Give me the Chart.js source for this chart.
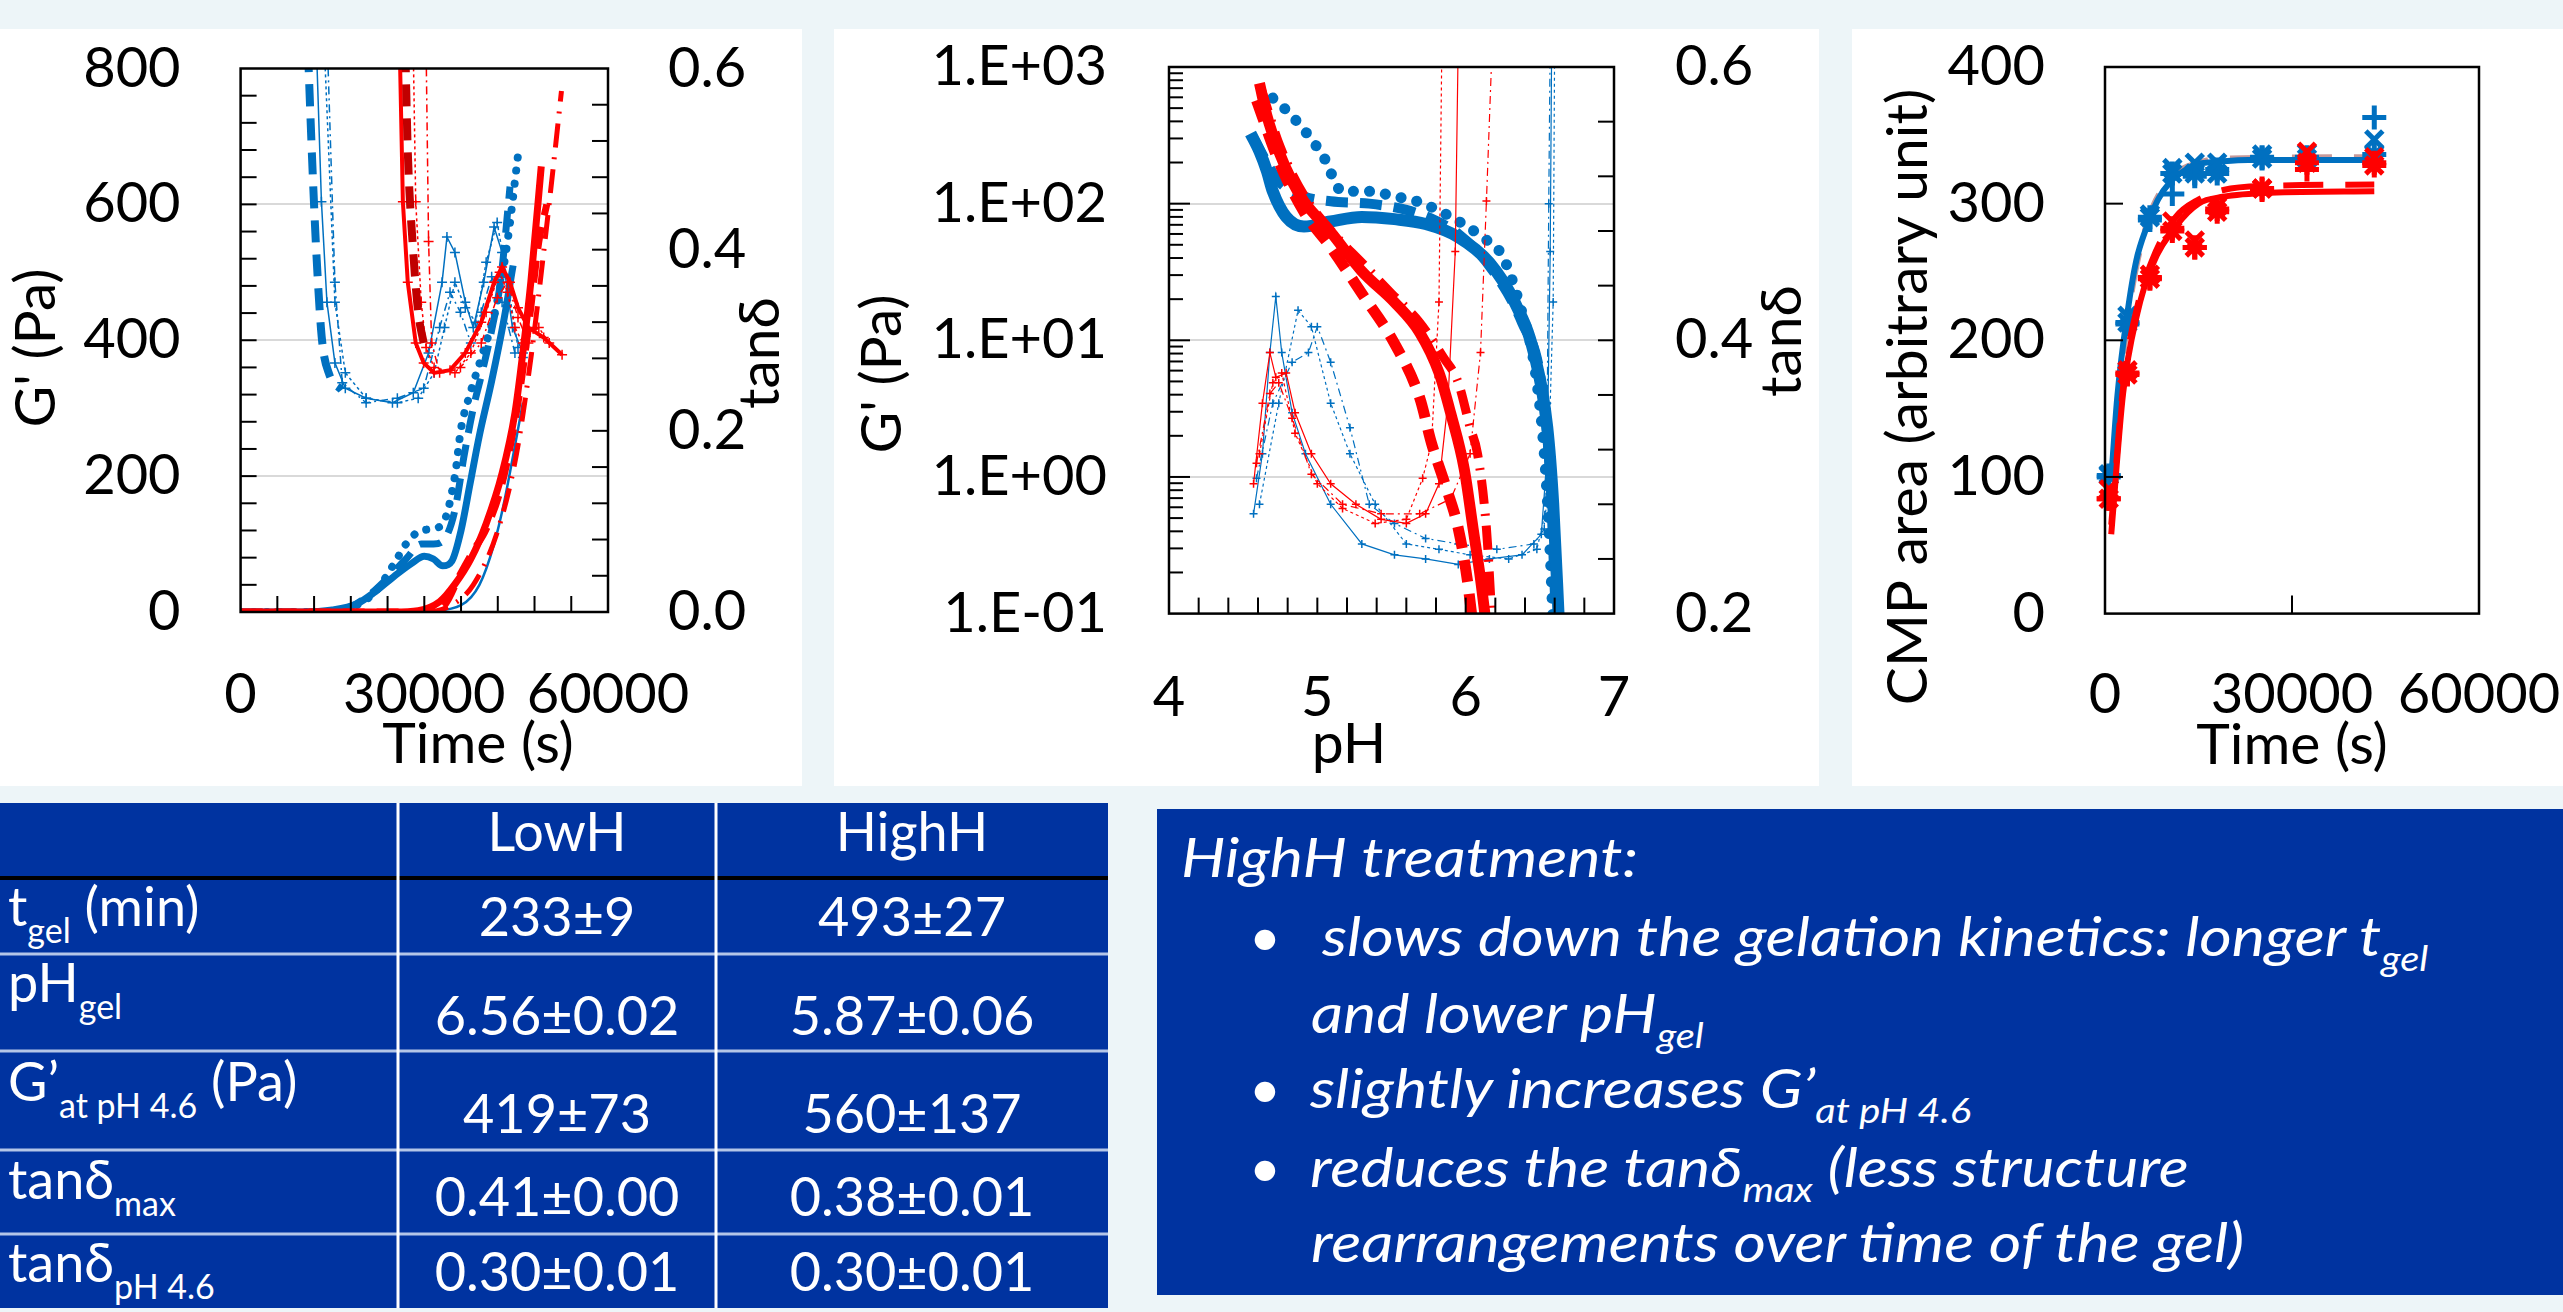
<!DOCTYPE html>
<html>
<head>
<meta charset="utf-8">
<title>Gelation kinetics LowH / HighH</title>
<script src="https://cdn.jsdelivr.net/npm/chart.js@4.4.1/dist/chart.umd.min.js"></script>
<style>
  html, body { margin: 0; padding: 0; }
  body { width: 2563px; height: 1312px; background: #edf5f8; position: relative; overflow: hidden; }
  .panel { position: absolute; top: 29px; height: 757px; background: #fff; }
  .panel canvas { position: absolute; left: 0; top: 0; }
  #bottom { position: absolute; left: 0; top: 0; }
</style>
</head>
<body>
<svg id="bottom" width="2563" height="1312"></svg>
<div class="panel" style="left:0;width:802px"><canvas id="c1" width="802" height="757"></canvas></div>
<div class="panel" style="left:834px;width:985px"><canvas id="c2" width="985" height="757"></canvas></div>
<div class="panel" style="left:1852px;width:711px"><canvas id="c3" width="711" height="757"></canvas></div>
<script>
// ---- chart 1 : G' and tan delta vs time  [time s, value] ----
const c1BlueGSolid = [[0,0],[10000,0],[15000,3],[19000,12],[22000,30],[25000,52],[28000,72],[30000,82],[31500,78],[33000,68],[34500,75],[36000,120],[37500,190],[39000,260],[41000,340],[43000,430],[44500,510]];
const c1BlueGDash = [[0,0],[13000,0],[18000,8],[21000,25],[24000,50],[27000,78],[29500,100],[31500,100],[33500,110],[35000,150],[36500,230],[38000,300],[39500,355],[41000,415],[42500,490],[44000,626]];
const c1BlueGDot = [[0,0],[14000,0],[18000,6],[22000,30],[25000,70],[27000,100],[29000,118],[31000,122],[33000,130],[35000,200],[36000,270],[37500,322],[39500,380],[41500,440],[43500,540],[45300,672]];
const c1BlueGThin = [[30000,0],[36000,10],[39000,40],[41400,100],[43000,160],[44500,230],[46100,308]];
const c1RedGSolid = [[0,0],[25000,0],[29000,2],[32500,15],[35000,41],[37600,78],[40100,130],[42700,204],[44800,293],[46100,382],[47400,486],[49100,656]];
const c1RedGDash = [[0,0],[27000,0],[31000,3],[33300,10],[35900,56],[38000,90],[40100,122],[42700,189],[45300,308],[47000,419],[48700,545],[50000,600]];
const c1RedGDashDot = [[0,0],[30000,0],[34000,8],[38000,40],[42000,120],[45000,230],[47500,380],[49500,530],[51000,650],[52400,767]];

const c1BlueTan1 = [[12400,0.62],[13200,0.453],[14100,0.342],[15400,0.275],[17100,0.247],[20500,0.236],[24800,0.231],[28200,0.242],[30700,0.286],[32900,0.364],[33700,0.414],[35000,0.397],[36700,0.342],[38000,0.314],[39700,0.364],[41400,0.425],[42700,0.397],[44400,0.314],[46100,0.286]];
const c1BlueTan2 = [[13700,0.62],[15400,0.342],[17100,0.264],[20500,0.236],[25600,0.231],[29000,0.236],[31600,0.264],[33300,0.314],[35000,0.364],[36700,0.336],[38400,0.32],[40100,0.386],[41900,0.43],[43600,0.364],[45300,0.292]];
const c1BlueTan3 = [[14200,0.62],[15400,0.364],[16600,0.253],[20500,0.231],[25600,0.236],[29900,0.247],[32500,0.314],[34200,0.353],[35900,0.331],[37600,0.297],[39300,0.331],[41000,0.37],[42700,0.342],[44800,0.286],[46100,0.281]];
const c1BlueTanThick = [[11000,0.62],[11800,0.48],[12500,0.38],[13300,0.3],[14500,0.262],[16500,0.245]];
const c1RedTan1 = [[26000,0.62],[26500,0.453],[27300,0.364],[28600,0.297],[29900,0.275],[31600,0.264],[34200,0.267],[36700,0.286],[39300,0.32],[41400,0.364],[42700,0.381],[44000,0.364],[45300,0.336],[47000,0.314],[49500,0.303],[52500,0.284]];
const c1RedTan2 = [[28200,0.62],[28600,0.453],[29500,0.342],[30300,0.292],[31600,0.27],[35000,0.264],[37600,0.286],[40100,0.331],[42300,0.375],[43600,0.353],[44800,0.314],[46100,0.297],[48700,0.314],[50400,0.297]];
const c1RedTan3 = [[30300,0.62],[30700,0.409],[31200,0.297],[32500,0.264],[35900,0.27],[39300,0.297],[41900,0.347],[43600,0.364],[45300,0.325],[47000,0.297]];
const c1RedTanThick = [[26900,0.62],[27300,0.509],[28200,0.397],[29000,0.331],[29900,0.297]];

// ---- chart 2 : G' and tan delta vs pH  [pH, value] ----
const c2YTicks = [0.1, 1, 10, 100, 1000];
const c2RedGSolid = [[4.61,760],[4.66,440],[4.74,242],[4.83,146],[4.91,104],[5.09,62],[5.30,32],[5.52,19],[5.69,11.4],[5.82,5.8],[5.90,2.9],[5.99,1.15],[6.05,0.42],[6.10,0.18],[6.14,0.08]];
const c2RedGDash = [[4.59,570],[4.74,204],[4.91,87],[5.09,48],[5.30,22],[5.52,9.5],[5.69,3.8],[5.77,1.76],[5.86,0.89],[5.95,0.42],[6.01,0.18],[6.05,0.08]];
const c2RedGDashDot = [[4.62,700],[4.75,260],[4.91,115],[5.10,62],[5.30,37],[5.50,22],[5.69,13.5],[5.85,7.5],[5.95,4.9],[6.03,2.3],[6.08,1.48],[6.14,0.42],[6.18,0.08]];
const c2BlueGSolid = [[4.55,326],[4.61,241],[4.66,173],[4.70,123],[4.79,80],[4.91,68],[5.09,74],[5.30,80],[5.52,77],[5.73,71],[5.95,57],[6.16,37],[6.33,19],[6.46,8.1],[6.55,2.3],[6.59,0.64],[6.63,0.08]];
const c2BlueGDot = [[4.70,592],[4.83,437],[5.04,222],[5.17,123],[5.35,123],[5.52,113],[5.67,104],[5.90,80],[6.11,57],[6.25,41],[6.38,15.9],[6.46,6.9],[6.53,1.48],[6.57,0.27],[6.59,0.08]];
const c2BlueGDash = [[4.57,300],[4.74,146],[4.91,113],[5.09,104],[5.35,100],[5.60,90],[5.80,75],[5.95,60],[6.16,35],[6.38,13.5],[6.51,4.9],[6.57,0.98],[6.61,0.08]];

const c2BlueTanA = [[4.57,0.273],[4.63,0.317],[4.68,0.391],[4.72,0.432],[4.76,0.391],[4.83,0.347],[4.92,0.317],[5.09,0.28],[5.30,0.251],[5.52,0.243],[5.73,0.24],[5.95,0.236],[6.16,0.24],[6.38,0.243],[6.51,0.258],[6.55,0.317],[6.57,0.465],[6.58,0.62]];
const c2BlueTanB = [[4.61,0.28],[4.74,0.354],[4.87,0.422],[4.96,0.41],[5.09,0.354],[5.22,0.317],[5.39,0.28],[5.60,0.251],[5.82,0.247],[6.03,0.243],[6.29,0.24],[6.48,0.247],[6.55,0.28],[6.59,0.428],[6.60,0.62]];
const c2BlueTanC = [[4.59,0.299],[4.70,0.354],[4.83,0.384],[4.94,0.391],[5.00,0.41],[5.09,0.384],[5.22,0.336],[5.35,0.28],[5.52,0.266],[5.73,0.255],[5.95,0.251],[6.21,0.247],[6.46,0.251],[6.53,0.262],[6.55,0.354],[6.56,0.5],[6.57,0.62]];
const c2RedTanA = [[4.57,0.295],[4.63,0.354],[4.68,0.391],[4.72,0.373],[4.79,0.376],[4.85,0.347],[4.96,0.317],[5.09,0.295],[5.26,0.28],[5.43,0.269],[5.60,0.266],[5.73,0.273],[5.82,0.295],[5.88,0.354],[5.93,0.465],[5.95,0.62]];
const c2RedTanB = [[4.61,0.317],[4.70,0.369],[4.76,0.376],[4.85,0.332],[5.00,0.295],[5.17,0.277],[5.39,0.266],[5.60,0.269],[5.71,0.299],[5.77,0.325],[5.82,0.428],[5.84,0.62]];
const c2RedTanC = [[4.59,0.31],[4.68,0.361],[4.74,0.369],[4.83,0.343],[4.96,0.302],[5.17,0.28],[5.43,0.273],[5.69,0.273],[5.90,0.284],[6.03,0.317],[6.10,0.391],[6.14,0.502],[6.18,0.62]];

// ---- chart 3 : CMP area vs time ----
const c3Times = [600, 3600, 7200, 10800, 14400, 18000, 25200, 32400, 43200];
const c3BlueX = [102, 218, 292, 326, 330, 330, 336, 337, 347];
const c3BluePlus = [100, 212, 288, 307, 320, 325, 334, 334, 363];
const c3BlueStar = [101, 213, 290, 322, 322, 322, 333, 333, 336];
const c3RedX = [91, 178, 248, 287, 273, 298, 311, 338, 334];
const c3RedPlus = [84, 176, 246, 282, 268, 296, 310, 325, 330];
const c3RedStar = [84, 175, 245, 280, 268, 294, 311, 330, 328];
const c3BlueFit = [[1000,99],[2000,160],[3600,220],[5000,258],[6700,283],[8500,303],[10500,316],[13000,325],[15000,329],[19000,331],[23000,332],[43200,332]];
const c3BlueFitDash = [[1000,100],[3700,218],[6700,285],[10500,318],[15000,330],[20000,333],[43200,334]];
const c3RedFit = [[1000,58],[2900,161],[5200,220],[7500,254],[11300,283],[15000,300],[18900,305],[26500,308],[43200,309]];
const c3RedFitDash = [[1000,65],[3000,170],[5200,225],[7500,258],[11300,290],[15000,303],[19000,310],[26000,313],[43200,314]];

// ---- table and summary text ----
const tableCols = ['LowH', 'HighH'];
const rowMain = ['t', 'pH', 'G’', 'tanδ', 'tanδ'];
const rowSub = ['gel', 'gel', 'at pH 4.6', 'max', 'pH 4.6'];
const rowUnit = [' (min)', '', ' (Pa)', '', ''];
const lowHValues = ['233±9', '6.56±0.02', '419±73', '0.41±0.00', '0.30±0.01'];
const highHValues = ['493±27', '5.87±0.06', '560±137', '0.38±0.01', '0.30±0.01'];
const boxText = [
  [['HighH treatment:']],
  [['slows down the gelation kinetics: longer t'], ['gel', 'sub']],
  [['and lower pH'], ['gel', 'sub']],
  [['slightly increases G’'], ['at pH 4.6', 'sub']],
  [['reduces the tanδ'], ['max', 'sub'], [' (less structure']],
  [['rearrangements over time of the gel)']]
];

const BLUE = '#0070c0', RED = '#ff0000', DRED = '#c00000';
const TICK_FONT = {family: 'Lato', size: 56};
const TITLE_FONT = '57px Lato';

function steps(from, to, step) {
  const out = [];
  for (let v = from; v <= to + 1e-9; v += step) out.push(+v.toFixed(6));
  return out;
}

function series(points, color, axis, style) {
  return Object.assign({
    data: points.map(p => ({x: p[0], y: p[1]})),
    yAxisID: axis, borderColor: color, backgroundColor: color,
    showLine: true, pointRadius: 0, borderWidth: 7, tension: 0, clip: 0
  }, style);
}
const thick = {borderWidth: 7, cubicInterpolationMode: 'monotone'};
const dashed = {borderDash: [22, 12]};
const dotted = {borderDash: [0.1, 13], borderCapStyle: 'round'};
const dashDot = {borderDash: [24, 10, 2, 10]};
const thinPlus = {borderWidth: 1.5, pointStyle: 'cross', pointRadius: 5, pointBorderWidth: 1.5};

function gridAt(values) {
  return c => (c.tick && values.includes(c.tick.value)) ? '#d9d9d9' : 'rgba(0,0,0,0)';
}

// box, inward ticks and axis titles
const framePlugin = {
  id: 'frame',
  afterDraw(chart, args, opts) {
    const {ctx, chartArea: a} = chart;
    ctx.save();
    ctx.strokeStyle = '#000';
    ctx.lineWidth = 2;
    (opts.marks || []).forEach(m => {
      const sc = chart.scales[m.scale];
      m.values.forEach(v => {
        const p = sc.getPixelForValue(v);
        ctx.beginPath();
        if (m.side === 'left') { ctx.moveTo(a.left, p); ctx.lineTo(a.left + m.len, p); }
        else if (m.side === 'right') { ctx.moveTo(a.right, p); ctx.lineTo(a.right - m.len, p); }
        else { ctx.moveTo(p, a.bottom); ctx.lineTo(p, a.bottom - m.len); }
        ctx.stroke();
      });
    });
    ctx.lineWidth = 2.5;
    ctx.strokeRect(a.left, a.top, a.right - a.left, a.bottom - a.top);
    ctx.fillStyle = '#000';
    ctx.font = TITLE_FONT;
    ctx.textAlign = 'center';
    ctx.textBaseline = 'middle';
    (opts.titles || []).forEach(t => {
      ctx.save();
      ctx.translate(t.x, t.y);
      if (t.rot) ctx.rotate(-Math.PI / 2);
      ctx.fillText(t.text, 0, 0);
      ctx.restore();
    });
    ctx.restore();
  }
};

// fixed axis sizes, no automatic label padding
function fixX(height) {
  return s => { s.height = height; s.paddingLeft = 0; s.paddingRight = 0; };
}
function fixY(width) {
  return s => { s.width = width; s.paddingTop = 0; s.paddingBottom = 0; };
}
function axisX(min, max, step, height, pad) {
  return {type: 'linear', min: min, max: max, afterFit: fixX(height),
    ticks: {stepSize: step, padding: pad, font: TICK_FONT, color: '#000', autoSkip: false, maxRotation: 0, callback: v => String(v)},
    grid: {display: false, drawTicks: false}, border: {display: false}};
}
function axisY(pos, min, max, step, width, pad, fmt, grid) {
  return {type: 'linear', position: pos, min: min, max: max, afterFit: fixY(width),
    ticks: {stepSize: step, padding: pad, font: TICK_FONT, color: '#000', callback: fmt},
    grid: grid ? {drawTicks: false, lineWidth: 2, color: gridAt(grid)} : {display: false, drawTicks: false},
    border: {display: false}};
}
const baseOpts = {responsive: false, animation: false};
const noLegend = {legend: {display: false}, tooltip: {enabled: false}};

// ---------- chart 1 ----------
new Chart(document.getElementById('c1'), {
  type: 'scatter',
  data: {datasets: [
    series(c1RedGSolid, RED, 'y', thick),
    series(c1RedGDash, RED, 'y', Object.assign({}, thick, dashed)),
    series(c1RedGDashDot, RED, 'y', Object.assign({}, thick, dashDot, {borderWidth: 5})),
    series(c1RedTanThick, DRED, 'y2', Object.assign({}, thick, dashed, {borderWidth: 8})),
    series(c1RedTan1, RED, 'y2', Object.assign({}, thinPlus, {borderWidth: 4})),
    series(c1RedTan2, RED, 'y2', Object.assign({}, thinPlus, {borderDash: [3, 3]})),
    series(c1RedTan3, RED, 'y2', Object.assign({}, thinPlus, {borderDash: [8, 4, 2, 4]})),
    series(c1BlueGSolid, BLUE, 'y', thick),
    series(c1BlueGDash, BLUE, 'y', Object.assign({}, thick, dashed)),
    series(c1BlueGDot, BLUE, 'y', Object.assign({}, thick, dotted, {borderWidth: 8})),
    series(c1BlueGThin, BLUE, 'y', {borderWidth: 2.5, cubicInterpolationMode: 'monotone'}),
    series(c1BlueTanThick, BLUE, 'y2', Object.assign({}, thick, dashed, {borderWidth: 8})),
    series(c1BlueTan1, BLUE, 'y2', thinPlus),
    series(c1BlueTan2, BLUE, 'y2', Object.assign({}, thinPlus, {borderDash: [3, 3]})),
    series(c1BlueTan3, BLUE, 'y2', Object.assign({}, thinPlus, {borderDash: [8, 4, 2, 4]}))
  ]},
  options: Object.assign({}, baseOpts, {
    layout: {autoPadding: false, padding: {top: 39.5, left: 0, right: 0, bottom: 0}},
    plugins: Object.assign({}, noLegend, {frame: {
      marks: [
        {scale: 'y', side: 'left', len: 16, values: steps(40, 760, 40)},
        {scale: 'y2', side: 'right', len: 16, values: steps(0.04, 0.56, 0.04)},
        {scale: 'x', side: 'bottom', len: 16, values: steps(6000, 54000, 6000)}
      ],
      titles: [
        {text: "G' (Pa)", x: 37, y: 319, rot: true},
        {text: 'Time (s)', x: 478, y: 716},
        {text: 'tanδ', x: 761, y: 324, rot: true}
      ]
    }}),
    scales: {
      x: axisX(0, 60000, 30000, 174, 49),
      y: axisY('left', 0, 800, 200, 240.6, 60, v => String(v), [200, 400, 600]),
      y2: axisY('right', 0, 0.6, 0.2, 194, 60, v => v.toFixed(1), null)
    }
  }),
  plugins: [framePlugin]
});

// ---------- chart 2 ----------
function sci(v) {
  const e = Math.round(Math.log10(v));
  return '1.E' + (e < 0 ? '-' : '+') + String(Math.abs(e)).padStart(2, '0');
}
const c2Minor = c2YTicks.slice(0, -1).flatMap(d => [2, 3, 4, 5, 6, 7, 8, 9].map(k => d * k));
const c2Y = {type: 'logarithmic', position: 'left', min: 0.1, max: 1000,
  afterFit: fixY(335),
  afterBuildTicks: s => { s.ticks = c2YTicks.map(v => ({value: v})); },
  ticks: {padding: 62, font: TICK_FONT, color: '#000', callback: v => sci(v)},
  grid: {drawTicks: false, lineWidth: 2, color: gridAt([1, 10, 100])},
  border: {display: false}};

new Chart(document.getElementById('c2'), {
  type: 'scatter',
  data: {datasets: [
    series(c2RedGSolid, RED, 'y', Object.assign({}, thick, {borderWidth: 11})),
    series(c2RedGDash, RED, 'y', Object.assign({}, thick, dashed, {borderWidth: 11})),
    series(c2RedGDashDot, RED, 'y', Object.assign({}, thick, dashDot, {borderWidth: 9})),
    series(c2RedTanA, RED, 'y2', Object.assign({}, thinPlus, {pointRadius: 4, borderWidth: 1.2})),
    series(c2RedTanB, RED, 'y2', Object.assign({}, thinPlus, {pointRadius: 4, borderWidth: 1.2, borderDash: [3, 3]})),
    series(c2RedTanC, RED, 'y2', Object.assign({}, thinPlus, {pointRadius: 4, borderWidth: 1.2, borderDash: [8, 4, 2, 4]})),
    series(c2BlueGSolid, BLUE, 'y', Object.assign({}, thick, {borderWidth: 12})),
    series(c2BlueGDot, BLUE, 'y', Object.assign({}, thick, dotted, {borderWidth: 11, borderDash: [0.1, 16]})),
    series(c2BlueGDash, BLUE, 'y', Object.assign({}, thick, dashed, {borderWidth: 10})),
    series(c2BlueTanA, BLUE, 'y2', Object.assign({}, thinPlus, {pointRadius: 4, borderWidth: 1.2})),
    series(c2BlueTanB, BLUE, 'y2', Object.assign({}, thinPlus, {pointRadius: 4, borderWidth: 1.2, borderDash: [3, 3]})),
    series(c2BlueTanC, BLUE, 'y2', Object.assign({}, thinPlus, {pointRadius: 4, borderWidth: 1.2, borderDash: [8, 4, 2, 4]}))
  ]},
  options: Object.assign({}, baseOpts, {
    layout: {autoPadding: false, padding: {top: 38, left: 0, right: 0, bottom: 0}},
    plugins: Object.assign({}, noLegend, {frame: {
      marks: [
        {scale: 'y', side: 'left', len: 21, values: [1, 10, 100]},
        {scale: 'y', side: 'left', len: 14, values: c2Minor},
        {scale: 'y2', side: 'right', len: 16, values: steps(0.24, 0.56, 0.04)},
        {scale: 'x', side: 'bottom', len: 16, values: steps(4.2, 6.8, 0.2)}
      ],
      titles: [
        {text: "G' (Pa)", x: 49, y: 345, rot: true},
        {text: 'pH', x: 515, y: 716},
        {text: 'tanδ', x: 949, y: 312, rot: true}
      ]
    }}),
    scales: {
      x: axisX(4, 7, 1, 172.4, 51),
      y: c2Y,
      y2: axisY('right', 0.2, 0.6, 0.2, 205, 61, v => v.toFixed(1), null)
    }
  }),
  plugins: [framePlugin]
});

// ---------- chart 3 ----------
function markers(values, color, style) {
  return {data: c3Times.map((t, i) => ({x: t, y: values[i]})), yAxisID: 'y', showLine: false,
    pointStyle: style, pointRadius: 12, pointBorderWidth: 5, borderColor: color, backgroundColor: color, clip: false};
}
new Chart(document.getElementById('c3'), {
  type: 'scatter',
  data: {datasets: [
    markers(c3RedX, RED, 'crossRot'),
    markers(c3RedPlus, RED, 'cross'),
    markers(c3RedStar, RED, 'star'),
    series(c3RedFit, RED, 'y', {borderWidth: 6, cubicInterpolationMode: 'monotone'}),
    series(c3RedFitDash, RED, 'y', {borderWidth: 6, cubicInterpolationMode: 'monotone', borderDash: [40, 22]}),
    markers(c3BlueX, BLUE, 'crossRot'),
    markers(c3BluePlus, BLUE, 'cross'),
    markers(c3BlueStar, BLUE, 'star'),
    series(c3BlueFit, BLUE, 'y', {borderWidth: 6, cubicInterpolationMode: 'monotone'}),
    series(c3BlueFitDash, '#c89a9a', 'y', {borderWidth: 6, cubicInterpolationMode: 'monotone', borderDash: [40, 22]})
  ]},
  options: Object.assign({}, baseOpts, {
    layout: {autoPadding: false, padding: {top: 38, left: 0, right: 84, bottom: 0}},
    plugins: Object.assign({}, noLegend, {frame: {
      marks: [
        {scale: 'y', side: 'left', len: 18, values: [100, 200, 300]},
        {scale: 'x', side: 'bottom', len: 18, values: [30000]}
      ],
      titles: [
        {text: 'CMP area (arbitrary unit)', x: 57, y: 368, rot: true},
        {text: 'Time (s)', x: 440, y: 717}
      ]
    }}),
    scales: {
      x: axisX(0, 60000, 30000, 172.4, 48),
      y: axisY('left', 0, 400, 100, 253, 60, v => String(v), null)
    }
  }),
  plugins: [framePlugin]
});

// ---------- table and summary box (SVG) ----------
const NS = 'http://www.w3.org/2000/svg';
const svg = document.getElementById('bottom');
function mk(tag, attrs, parent, text) {
  const e = document.createElementNS(NS, tag);
  for (const k in attrs) e.setAttribute(k, attrs[k]);
  if (text !== undefined) e.textContent = text;
  (parent || svg).appendChild(e);
  return e;
}
const TBL = {x: 0, y: 803, w: 1108, h: 505, col1: 398, col2: 716};
const rowLines = [954, 1051, 1150, 1234];
const labelBase = [926, 1002, 1101, 1199, 1282];
const valueBase = [936, 1034.5, 1133, 1216, 1291];
const colCenter = [557, 912];
const FS = 54, SUB = 34, SUBDY = 17;

mk('rect', {x: TBL.x, y: TBL.y, width: TBL.w, height: TBL.h, fill: '#0033a0'});
rowLines.forEach(y => mk('rect', {x: 0, y: y - 1.5, width: TBL.w, height: 3, fill: '#b4c6e7'}));
mk('rect', {x: 0, y: 876, width: TBL.w, height: 4, fill: '#000'});
[TBL.col1, TBL.col2].forEach(x => mk('rect', {x: x - 1.5, y: TBL.y, width: 3, height: TBL.h, fill: '#fff'}));

const tStyle = {fill: '#fff', 'font-family': 'Lato', 'font-size': FS};
tableCols.forEach((c, i) => mk('text', Object.assign({x: colCenter[i], y: 851, 'text-anchor': 'middle'}, tStyle), svg, c));
rowMain.forEach((m, r) => {
  const t = mk('text', Object.assign({x: 8, y: labelBase[r]}, tStyle));
  mk('tspan', {}, t, m);
  mk('tspan', {dy: SUBDY, 'font-size': SUB}, t, rowSub[r]);
  if (rowUnit[r]) mk('tspan', {dy: -SUBDY}, t, rowUnit[r]);
  mk('text', Object.assign({x: colCenter[0], y: valueBase[r], 'text-anchor': 'middle'}, tStyle), svg, lowHValues[r]);
  mk('text', Object.assign({x: colCenter[1], y: valueBase[r], 'text-anchor': 'middle'}, tStyle), svg, highHValues[r]);
});

// summary box (text slightly widened, like the original slide)
mk('rect', {x: 1157, y: 809, width: 1406, height: 486, fill: '#0033a0'});
const boxX = [1181, 1322, 1311, 1310, 1310, 1311];
const boxY = [877, 956, 1033, 1108, 1187, 1262];
const bulletRows = [1, 3, 4];
const BFS = 55, BSUB = 35, BOX_SX = 1.14;
boxText.forEach((parts, i) => {
  const g = mk('g', {transform: 'translate(' + boxX[i] + ',' + boxY[i] + ') scale(' + BOX_SX + ',1)'});
  const t = mk('text', {x: 0, y: 0, fill: '#fff', 'font-family': 'Lato', 'font-size': BFS, 'font-style': 'italic'}, g);
  let shifted = false;
  parts.forEach(p => {
    if (p[1] === 'sub') { mk('tspan', {dy: 15, 'font-size': BSUB}, t, p[0]); shifted = true; }
    else { mk('tspan', shifted ? {dy: -15} : {}, t, p[0]); shifted = false; }
  });
  if (bulletRows.includes(i)) {
    mk('text', {x: 1265, y: boxY[i], fill: '#fff', 'font-family': 'Lato', 'font-size': BFS, 'text-anchor': 'middle'}, svg, '•');
  }
});
</script>
</body>
</html>
